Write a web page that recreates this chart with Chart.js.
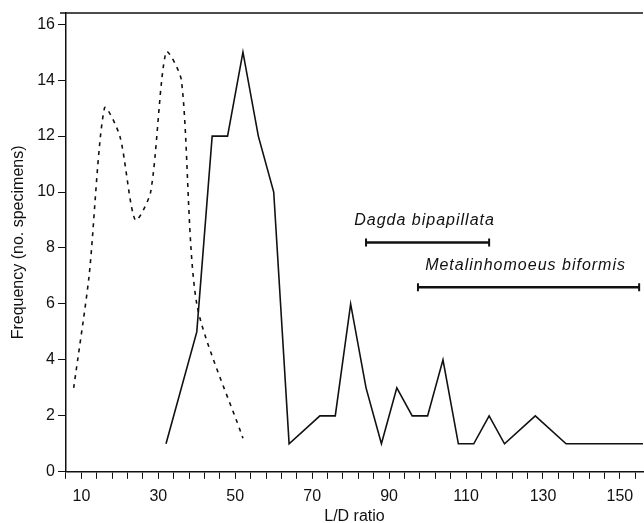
<!DOCTYPE html>
<html>
<head>
<meta charset="utf-8">
<script src="https://cdn.jsdelivr.net/npm/chart.js@4.4.1/dist/chart.umd.min.js"></script>
<style>
  html, body { margin: 0; padding: 0; background: #fff; }
  canvas { display: block; }
</style>
</head>
<body>
<canvas id="ldChart" width="644" height="523"></canvas>
<script>
// solid line (L/D ratio -> number of specimens)
const solidX = [32, 40, 44, 48, 52, 56, 60, 64, 72, 76, 80, 84, 88, 92, 96, 100, 104, 108, 112, 116, 120, 128, 136, 156];
const solidY = [1, 5, 12, 12, 15, 12, 10, 1, 2, 2, 6, 3, 1, 3, 2, 2, 4, 1, 1, 2, 1, 2, 1, 1];

// dashed line
const dashedX = [8, 12, 16, 20, 24, 28, 32, 36, 40, 52];
const dashedY = [3, 7, 13, 12, 9, 10, 15, 14, 6, 1.2];

// species ranges drawn as bars with end caps
const rangeNames = ['Dagda bipapillata', 'Metalinhomoeus biformis'];
const rangeFrom = [84, 97.5];
const rangeTo = [116, 155];
const rangeLevel = [8.2, 6.6];

// axes
const xLabels = [10, 30, 50, 70, 90, 110, 130, 150];
const xMin = 6, xMax = 156, xStep = 4;
const yTicks = [0, 2, 4, 6, 8, 10, 12, 14, 16];

const INK = '#111';
const FONT = '"Liberation Sans", Arial, Helvetica, sans-serif';

Chart.defaults.font.family = FONT;
Chart.defaults.font.size = 16;
Chart.defaults.color = INK;

const toPoints = (xs, ys) => xs.map((x, i) => ({ x: x, y: ys[i] }));

const rangeSets = rangeNames.map((name, i) => ({
    label: name,
    data: [{ x: rangeFrom[i], y: rangeLevel[i] }, { x: rangeTo[i], y: rangeLevel[i] }],
    borderColor: INK,
    borderWidth: 2.5,
    pointStyle: 'line',
    rotation: 90,
    pointRadius: 4,
    pointBorderWidth: 2,
    pointBorderColor: INK
}));

// top frame line + species names
const extras = {
    id: 'extras',
    afterDatasetsDraw(chart) {
        const { ctx, chartArea, scales } = chart;
        ctx.save();
        ctx.strokeStyle = INK;
        ctx.lineWidth = 1.5;
        ctx.beginPath();
        ctx.moveTo(chartArea.left - 6, chartArea.top);
        ctx.lineTo(chartArea.right, chartArea.top);
        ctx.stroke();

        ctx.font = 'italic 16px ' + FONT;
        ctx.letterSpacing = '1px';
        ctx.fillStyle = INK;
        ctx.textAlign = 'center';
        ctx.textBaseline = 'alphabetic';
        rangeNames.forEach((name, i) => {
            const cx = scales.x.getPixelForValue((rangeFrom[i] + rangeTo[i]) / 2);
            const cy = scales.y.getPixelForValue(rangeLevel[i]);
            ctx.fillText(name, cx - 3, cy - 17);
        });
        ctx.restore();
    }
};

new Chart(document.getElementById('ldChart'), {
    type: 'line',
    data: {
        datasets: [
            {
                label: 'solid',
                data: toPoints(solidX, solidY),
                borderColor: INK,
                borderWidth: 1.6,
                pointRadius: 0,
                tension: 0
            },
            {
                label: 'dashed',
                data: toPoints(dashedX, dashedY),
                borderColor: INK,
                borderWidth: 1.6,
                borderDash: [4, 5],
                pointRadius: 0,
                tension: 0.25
            },
            ...rangeSets
        ]
    },
    options: {
        responsive: false,
        animation: false,
        layout: { autoPadding: false, padding: { left: 5, top: 13, right: 1, bottom: -3 } },
        plugins: {
            legend: { display: false },
            tooltip: { enabled: false }
        },
        scales: {
            x: {
                type: 'linear',
                min: xMin,
                max: xMax,
                afterBuildTicks: scale => {
                    const t = [];
                    for (let v = xMin; v <= xMax - 1; v += xStep) t.push({ value: v });
                    scale.ticks = t;
                },
                ticks: {
                    autoSkip: false,
                    maxRotation: 0,
                    padding: 8,
                    callback: v => xLabels.includes(v) ? String(v) : ''
                },
                grid: { drawOnChartArea: false, tickLength: 7, color: INK, lineWidth: 1 },
                border: { color: INK, width: 1.5 },
                title: {
                    display: true,
                    text: 'L/D ratio',
                    font: { lineHeight: 1.0 },
                    padding: { top: -5, bottom: 1 }
                }
            },
            y: {
                type: 'linear',
                min: 0,
                max: 16.4,
                afterBuildTicks: scale => {
                    scale.ticks = yTicks.map(v => ({ value: v }));
                },
                ticks: { padding: 3 },
                grid: { drawOnChartArea: false, tickLength: 8, color: INK, lineWidth: 1 },
                border: { color: INK, width: 1.5 },
                title: { display: true, text: 'Frequency (no. specimens)', padding: { top: 4, bottom: 6 } }
            }
        }
    },
    plugins: [extras]
});
</script>
</body>
</html>
